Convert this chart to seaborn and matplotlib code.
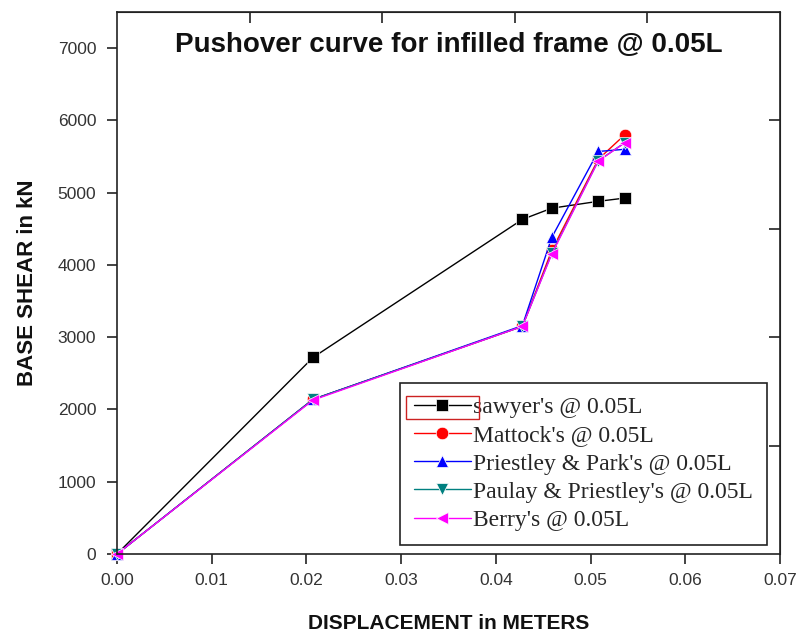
import numpy as np
import pandas as pd
import matplotlib
matplotlib.use("Agg")
import matplotlib.pyplot as plt
import seaborn as sns
from matplotlib.patches import Rectangle

# Data
displacement = [0.0, 0.0207, 0.0428, 0.0459, 0.0508, 0.0536]
sawyer = [0, 2720, 4630, 4785, 4880, 4925]
mattock = [0, 2140, 3150, 4200, 5460, 5800]
priestley_park = [0, 2140, 3160, 4380, 5570, 5600]
paulay_priestley = [0, 2140, 3150, 4160, 5440, 5690]
berry = [0, 2130, 3150, 4150, 5435, 5690]

labels = ["sawyer's @ 0.05L", "Mattock's @ 0.05L", "Priestley & Park's @ 0.05L",
          "Paulay & Priestley's @ 0.05L", "Berry's @ 0.05L"]
series = [sawyer, mattock, priestley_park, paulay_priestley, berry]
colors = ["#000000", "#ff0000", "#0000ff", "#008080", "#ff00ff"]
markers = ["s", "o", "^", "v", "<"]

x_ticks = [0.00, 0.01, 0.02, 0.03, 0.04, 0.05, 0.06, 0.07]
y_ticks = [0, 1000, 2000, 3000, 4000, 5000, 6000, 7000]

rows = []
for lab, vals in zip(labels, series):
    for xv, yv in zip(displacement, vals):
        rows.append({"x": xv, "y": yv, "series": lab})
df = pd.DataFrame(rows)

sns.set_style("ticks")
plt.rcParams["font.family"] = ["Liberation Sans", "DejaVu Sans"]

fig = plt.figure(figsize=(8.03, 6.39), dpi=100)
ax = fig.add_axes([117/803, 1 - 554/639, (780-117)/803, (554-12)/639])

sns.lineplot(data=df, x="x", y="y", hue="series", style="series",
             hue_order=labels, style_order=labels,
             palette=dict(zip(labels, colors)),
             markers=dict(zip(labels, markers)),
             dashes=False, linewidth=1.0, markersize=9,
             markeredgewidth=0.5, ax=ax, legend=True, clip_on=False)

ax.set_xlim(0, 0.07)
ax.set_ylim(0, 7500)
ax.set_xticks(x_ticks)
ax.set_xticklabels([f"{t:.2f}" for t in x_ticks])
ax.set_yticks(y_ticks)
ax.tick_params(axis="both", direction="out", length=7, width=1.2,
               labelsize=12.5, labelcolor="#333333", color="#222222")
ax.tick_params(axis="x", pad=7)
ax.tick_params(axis="y", pad=8)
for s in ax.spines.values():
    s.set_linewidth(1.2)
    s.set_color("#222222")

# top and right inner ticks
axt = ax.secondary_xaxis("top")
axt.set_xticks([0.014, 0.028, 0.042, 0.056])
axt.tick_params(direction="in", length=8, width=1.2, labeltop=False, color="#222222")
axr = ax.secondary_yaxis("right")
axr.set_yticks([1500, 3000, 4500, 6000])
axr.tick_params(direction="in", length=8, width=1.2, labelright=False, color="#222222")

ax.set_xlabel("DISPLACEMENT in METERS", fontsize=15, fontweight="bold",
              color="#111111")
ax.set_ylabel("BASE SHEAR in kN", fontsize=16, fontweight="bold", labelpad=14,
              color="#111111")
ax.xaxis.set_label_coords(0.5, -(614 - 554) / (554 - 12))
ax.text(0.5, 0.94, "Pushover curve for infilled frame @ 0.05L", transform=ax.transAxes,
        ha="center", va="center", fontsize=20, fontweight="bold", color="#111111")

leg = ax.legend(loc="lower right", bbox_to_anchor=(767/803, 1 - 545/639),
                bbox_transform=fig.transFigure,
                prop={"family": ["Liberation Serif", "DejaVu Serif"], "size": 17},
                frameon=True, fancybox=False, framealpha=1, edgecolor="#222222",
                handlelength=2.4, handletextpad=0.1, labelspacing=0.28,
                borderpad=0.6, borderaxespad=0.0)
leg.get_frame().set_linewidth(1.2)

fig.canvas.draw()
renderer = fig.canvas.get_renderer()
h0 = leg.legend_handles[0]
bb = h0.get_window_extent(renderer)
txt0 = leg.get_texts()[0].get_window_extent(renderer)
inv = fig.transFigure.inverted()
(x0, y0) = inv.transform((bb.x0 - 2, txt0.y0 - 1))
(x1, y1) = inv.transform((bb.x1 + 2, txt0.y1 + 1))
fig.patches.append(Rectangle((x0, y0), x1 - x0, y1 - y0, transform=fig.transFigure,
                             fill=False, edgecolor="#cc2222", linewidth=1.0, zorder=10))

fig.savefig("out.png", dpi=100)
